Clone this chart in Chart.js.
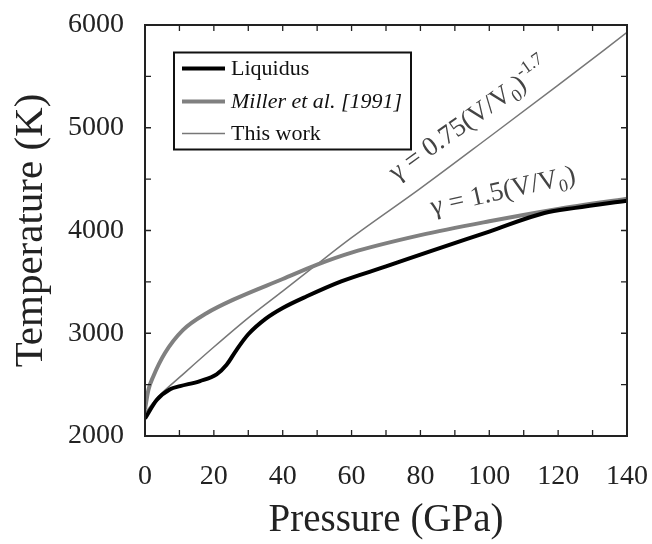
<!DOCTYPE html>
<html>
<head>
<meta charset="utf-8">
<script src="https://cdn.jsdelivr.net/npm/chart.js@4.4.1/dist/chart.umd.min.js"></script>
<style>
  body { margin: 0; background: #fff; }
  canvas { display: block; }
</style>
</head>
<body>
<canvas id="meltChart" width="652" height="544"></canvas>
<script>
var serif = '"Liberation Serif", "Times New Roman", serif';

// values: pressure (GPa) and temperature (K)
var liquidusP = [0, 3.4, 7.3, 10.2, 16, 20.8, 23.7, 26.6, 30, 35, 40, 47, 57, 70, 83, 100, 116, 125, 140];
var liquidusT = [2170, 2351, 2456, 2485, 2535, 2600, 2693, 2839, 2990, 3140, 3246, 3360, 3505, 3650, 3800, 3990, 4170, 4220, 4290];
var millerP = [0, 1, 2.4, 5.8, 11, 18, 26, 40, 50, 60, 80, 100, 120, 140];
var millerT = [2260, 2450, 2579, 2807, 3030, 3197, 3332, 3528, 3668, 3785, 3955, 4090, 4210, 4310];
var thisWorkP = [0, 2, 5, 10, 20, 30, 40, 50, 60, 80, 100, 120, 140];
var thisWorkT = [2220, 2310, 2420, 2570, 2866, 3150, 3410, 3672, 3930, 4410, 4910, 5414, 5928];

var seriesNames = ["Liquidus", "Miller et al. [1991]", "This work"];

function toPoints(px, ty) {
  var pts = [];
  for (var i = 0; i < px.length; i++) {
    pts.push({x: px[i], y: ty[i]});
  }
  return pts;
}

// write a line of text made of runs (for sub/superscripts), rotated
function drawRuns(ctx, runs, x, y, angle) {
  ctx.save();
  ctx.translate(x, y);
  ctx.rotate(angle * Math.PI / 180);
  ctx.textBaseline = "alphabetic";
  ctx.textAlign = "left";
  var cx = 0;
  for (var i = 0; i < runs.length; i++) {
    ctx.font = runs[i].size + "px " + serif;
    ctx.fillText(runs[i].text, cx, runs[i].dy);
    cx += ctx.measureText(runs[i].text).width;
  }
  ctx.restore();
}

// no extra room for overhanging tick labels, the layout padding covers it
function noOverhang(scale) {
  scale.paddingLeft = 0;
  scale.paddingRight = 0;
  scale.paddingTop = 0;
  scale.paddingBottom = 0;
}

var frameAndTicks = {
  id: "frameAndTicks",
  afterDatasetsDraw: function(chart) {
    var ctx = chart.ctx;
    var a = chart.chartArea;
    var xs = chart.scales.x;
    var ys = chart.scales.y;
    ctx.save();
    ctx.strokeStyle = "#222";
    ctx.lineWidth = 1.3;
    ctx.beginPath();
    for (var p = xs.min + 10; p < xs.max; p += 10) {
      var px = xs.getPixelForValue(p);
      ctx.moveTo(px, a.bottom);
      ctx.lineTo(px, a.bottom - 6);
      ctx.moveTo(px, a.top);
      ctx.lineTo(px, a.top + 6);
    }
    for (var t = ys.min + 500; t < ys.max; t += 500) {
      var py = ys.getPixelForValue(t);
      ctx.moveTo(a.left, py);
      ctx.lineTo(a.left + 6, py);
      ctx.moveTo(a.right, py);
      ctx.lineTo(a.right - 6, py);
    }
    ctx.stroke();
    ctx.lineWidth = 2;
    ctx.strokeRect(a.left, a.top, a.right - a.left, a.bottom - a.top);

    // curve annotations
    ctx.fillStyle = "#444";
    var p1x = xs.getPixelForValue(73), p1y = ys.getPixelForValue(4480);
    drawRuns(ctx, [
      {text: "\u03b3 = 0.75(V/V", size: 27, dy: 0},
      {text: "0", size: 18, dy: 6},
      {text: ")", size: 27, dy: 0},
      {text: "-1.7", size: 18, dy: -12}
    ], p1x, p1y, -35.5);
    var p2x = xs.getPixelForValue(83.5), p2y = ys.getPixelForValue(4150);
    drawRuns(ctx, [
      {text: "\u03b3 = 1.5(V/V", size: 27, dy: 0},
      {text: "0", size: 18, dy: 6},
      {text: ")", size: 27, dy: 0}
    ], p2x, p2y, -12.8);

    // legend box
    var lx = a.left + 29, ly = a.top + 27.5;
    ctx.fillStyle = "#fff";
    ctx.fillRect(lx, ly, 237, 97);
    ctx.strokeStyle = "#111";
    ctx.lineWidth = 2;
    ctx.strokeRect(lx, ly, 237, 97);
    var rows = [16, 49, 81];
    chart.data.datasets.forEach(function(ds, i) {
      var ry = ly + rows[i];
      ctx.strokeStyle = ds.borderColor;
      ctx.lineWidth = ds.borderWidth;
      ctx.beginPath();
      ctx.moveTo(lx + 8, ry);
      ctx.lineTo(lx + 51, ry);
      ctx.stroke();
      ctx.fillStyle = "#111";
      ctx.font = (ds.italic ? "italic " : "") + "22px " + serif;
      ctx.textBaseline = "middle";
      ctx.textAlign = "left";
      ctx.fillText(ds.label, lx + 57, ry + 1);
    });
    ctx.restore();
  }
};

var ctx = document.getElementById("meltChart").getContext("2d");
var meltChart = new Chart(ctx, {
  type: "line",
  data: {
    datasets: [{
      label: seriesNames[0],
      data: toPoints(liquidusP, liquidusT),
      borderColor: "#000",
      borderWidth: 4
    }, {
      label: seriesNames[1],
      data: toPoints(millerP, millerT),
      borderColor: "#808080",
      borderWidth: 4,
      italic: true
    }, {
      label: seriesNames[2],
      data: toPoints(thisWorkP, thisWorkT),
      borderColor: "#777",
      borderWidth: 1.5
    }]
  },
  options: {
    responsive: false,
    animation: false,
    devicePixelRatio: 1,
    layout: {padding: {top: 25, right: 25, left: 0, bottom: 0}},
    elements: {
      point: {radius: 0},
      line: {cubicInterpolationMode: "monotone"}
    },
    plugins: {
      legend: {display: false},
      tooltip: {enabled: false}
    },
    scales: {
      x: {
        type: "linear",
        min: 0,
        max: 140,
        grid: {display: false, drawTicks: false},
        border: {display: false},
        ticks: {
          stepSize: 20,
          maxRotation: 0,
          autoSkip: false,
          padding: 24,
          color: "#222",
          font: {family: serif, size: 28},
          callback: function(v) { return String(v); }
        },
        title: {
          display: true,
          text: "Pressure (GPa)",
          color: "#222",
          padding: {top: 0, bottom: 0},
          font: {family: serif, size: 39}
        },
        afterFit: function(scale) {
          scale.height = 108;
          noOverhang(scale);
        }
      },
      y: {
        min: 2000,
        max: 6000,
        grid: {display: false, drawTicks: false},
        border: {display: false},
        ticks: {
          stepSize: 1000,
          padding: 21,
          color: "#222",
          font: {family: serif, size: 28},
          callback: function(v) { return String(v); }
        },
        title: {
          display: true,
          text: "Temperature (K)",
          color: "#222",
          padding: {top: 7, bottom: 0},
          font: {family: serif, size: 41}
        },
        afterFit: function(scale) {
          scale.width = 145;
          noOverhang(scale);
        }
      }
    }
  },
  plugins: [frameAndTicks]
});
</script>
</body>
</html>
